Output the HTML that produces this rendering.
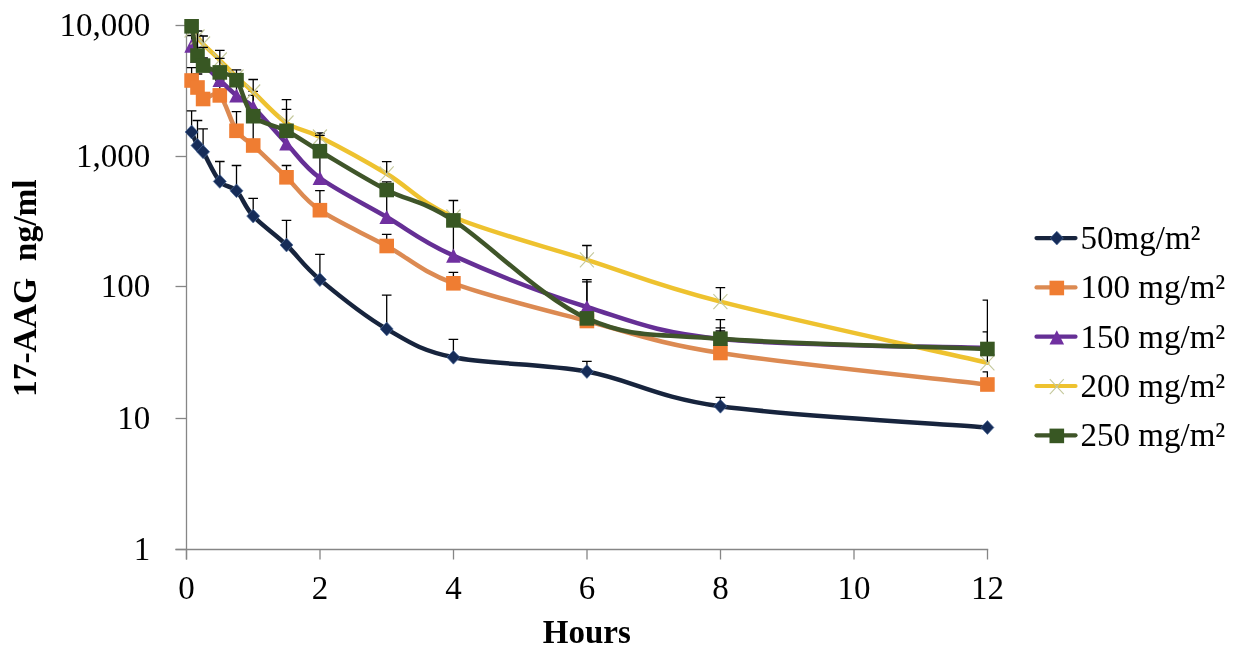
<!DOCTYPE html><html><head><meta charset="utf-8"><title>17-AAG plasma concentration</title><style>html,body{margin:0;padding:0;background:#fff;}svg{display:block;}text{font-family:"Liberation Serif","Times New Roman",serif;fill:#000;}</style></head><body>
<svg width="1236" height="657" viewBox="0 0 1236 657">
<rect width="1236" height="657" fill="#fff"/>
<g stroke="#868686" stroke-width="1.3" fill="none">
<path d="M186.5 25V559.5"/>
<path d="M175.5 549.5H988.2"/>
<path d="M175.5 25.5H186.5"/>
<path d="M175.5 156.5H186.5"/>
<path d="M175.5 286.5H186.5"/>
<path d="M175.5 418.5H186.5"/>
<path d="M175.5 549.5H186.5"/>
<path d="M186.5 549.5V559.5"/>
<path d="M320.0 549.5V559.5"/>
<path d="M453.5 549.5V559.5"/>
<path d="M587.0 549.5V559.5"/>
<path d="M720.5 549.5V559.5"/>
<path d="M854.0 549.5V559.5"/>
<path d="M987.5 549.5V559.5"/>
</g>
<text x="150.3" y="35.9" font-size="33" text-anchor="end">10,000</text>
<text x="150.3" y="166.8" font-size="33" text-anchor="end">1,000</text>
<text x="150.3" y="296.9" font-size="33" text-anchor="end">100</text>
<text x="150.3" y="428.9" font-size="33" text-anchor="end">10</text>
<text x="150.3" y="559.9" font-size="33" text-anchor="end">1</text>
<text x="186.5" y="599.2" font-size="33" text-anchor="middle">0</text>
<text x="320.0" y="599.2" font-size="33" text-anchor="middle">2</text>
<text x="453.5" y="599.2" font-size="33" text-anchor="middle">4</text>
<text x="587.0" y="599.2" font-size="33" text-anchor="middle">6</text>
<text x="720.5" y="599.2" font-size="33" text-anchor="middle">8</text>
<text x="854.0" y="599.2" font-size="33" text-anchor="middle">10</text>
<text x="987.5" y="599.2" font-size="33" text-anchor="middle">12</text>
<text x="586.8" y="643" font-size="33" font-weight="bold" text-anchor="middle">Hours</text>
<text transform="translate(35.9 288.2) rotate(-90)" font-size="33.5" font-weight="bold" text-anchor="middle" xml:space="preserve">17-AAG  ng/ml</text>
<defs><clipPath id="pa"><rect x="0" y="0" width="988" height="560"/></clipPath></defs>
<path d="M191.60 132.00 C192.58 134.25 195.58 142.20 197.50 145.50 C199.42 148.80 199.38 145.82 203.10 151.80 C206.82 157.78 214.23 174.90 219.80 181.40 C225.37 187.90 230.93 185.02 236.50 190.80 C242.07 196.58 244.87 207.07 253.20 216.10 C261.53 225.13 275.38 234.42 286.50 245.00 C297.62 255.58 303.20 265.60 319.90 279.60 C336.60 293.60 364.45 316.05 386.70 329.00 C408.95 341.95 420.03 350.22 453.40 357.30 C486.77 364.38 542.40 363.33 586.90 371.50 C631.40 379.67 653.65 396.97 720.40 406.30 C787.15 415.63 942.90 423.97 987.40 427.50" fill="none" stroke="#17243d" stroke-width="4.5" stroke-linejoin="round" stroke-linecap="round"/>
<path d="M191.60 132.00V110.80M186.80 110.80H196.40M197.50 145.50V120.50M192.70 120.50H202.30M203.10 151.80V128.80M198.30 128.80H207.90M219.80 181.40V161.50M215.00 161.50H224.60M236.50 190.80V165.50M231.70 165.50H241.30M253.20 216.10V198.40M248.40 198.40H258.00M286.50 245.00V220.30M281.70 220.30H291.30M319.90 279.60V254.40M315.10 254.40H324.70M386.70 329.00V295.20M381.90 295.20H391.50M453.40 357.30V339.40M448.60 339.40H458.20M586.90 371.50V361.40M582.10 361.40H591.70M720.40 406.30V397.30M715.60 397.30H725.20" stroke="#000" stroke-width="1.3" fill="none" clip-path="url(#pa)"/>
<path d="M191.60 125.10L198.10 132.00L191.60 138.90L185.10 132.00Z" fill="#162c58" stroke="#4f6d9c" stroke-width="0.7"/>
<path d="M197.50 138.60L204.00 145.50L197.50 152.40L191.00 145.50Z" fill="#162c58" stroke="#4f6d9c" stroke-width="0.7"/>
<path d="M203.10 144.90L209.60 151.80L203.10 158.70L196.60 151.80Z" fill="#162c58" stroke="#4f6d9c" stroke-width="0.7"/>
<path d="M219.80 174.50L226.30 181.40L219.80 188.30L213.30 181.40Z" fill="#162c58" stroke="#4f6d9c" stroke-width="0.7"/>
<path d="M236.50 183.90L243.00 190.80L236.50 197.70L230.00 190.80Z" fill="#162c58" stroke="#4f6d9c" stroke-width="0.7"/>
<path d="M253.20 209.20L259.70 216.10L253.20 223.00L246.70 216.10Z" fill="#162c58" stroke="#4f6d9c" stroke-width="0.7"/>
<path d="M286.50 238.10L293.00 245.00L286.50 251.90L280.00 245.00Z" fill="#162c58" stroke="#4f6d9c" stroke-width="0.7"/>
<path d="M319.90 272.70L326.40 279.60L319.90 286.50L313.40 279.60Z" fill="#162c58" stroke="#4f6d9c" stroke-width="0.7"/>
<path d="M386.70 322.10L393.20 329.00L386.70 335.90L380.20 329.00Z" fill="#162c58" stroke="#4f6d9c" stroke-width="0.7"/>
<path d="M453.40 350.40L459.90 357.30L453.40 364.20L446.90 357.30Z" fill="#162c58" stroke="#4f6d9c" stroke-width="0.7"/>
<path d="M586.90 364.60L593.40 371.50L586.90 378.40L580.40 371.50Z" fill="#162c58" stroke="#4f6d9c" stroke-width="0.7"/>
<path d="M720.40 399.40L726.90 406.30L720.40 413.20L713.90 406.30Z" fill="#162c58" stroke="#4f6d9c" stroke-width="0.7"/>
<path d="M987.40 420.60L993.90 427.50L987.40 434.40L980.90 427.50Z" fill="#162c58" stroke="#4f6d9c" stroke-width="0.7"/>
<path d="M191.60 80.50 C192.58 81.67 195.58 84.42 197.50 87.50 C199.42 90.58 199.38 97.68 203.10 99.00 C206.82 100.32 214.23 90.10 219.80 95.40 C225.37 100.70 230.93 122.45 236.50 130.80 C242.07 139.15 244.87 137.75 253.20 145.50 C261.53 153.25 275.38 166.52 286.50 177.30 C297.62 188.08 303.20 198.75 319.90 210.20 C336.60 221.65 364.45 233.82 386.70 246.00 C408.95 258.18 420.03 270.80 453.40 283.30 C486.77 295.80 542.40 309.38 586.90 321.00 C631.40 332.62 653.65 342.42 720.40 353.00 C787.15 363.58 942.90 379.25 987.40 384.50" fill="none" stroke="#dc8a52" stroke-width="4.5" stroke-linejoin="round" stroke-linecap="round"/>
<path d="M191.60 80.50V67.60M186.80 67.60H196.40M197.50 87.50V74.00M192.70 74.00H202.30M219.80 95.40V80.00M215.00 80.00H224.60M236.50 130.80V111.60M231.70 111.60H241.30M253.20 145.50V91.40M248.40 91.40H258.00M286.50 177.30V165.50M281.70 165.50H291.30M319.90 210.20V190.60M315.10 190.60H324.70M386.70 246.00V234.30M381.90 234.30H391.50M453.40 283.30V272.40M448.60 272.40H458.20M586.90 321.00V281.80M582.10 281.80H591.70M720.40 353.00V331.00M715.60 331.00H725.20M987.40 384.50V371.90M982.60 371.90H992.20" stroke="#000" stroke-width="1.3" fill="none" clip-path="url(#pa)"/>
<rect x="184.30" y="73.20" width="14.6" height="14.6" fill="#ef7d32"/>
<rect x="190.20" y="80.20" width="14.6" height="14.6" fill="#ef7d32"/>
<rect x="195.80" y="91.70" width="14.6" height="14.6" fill="#ef7d32"/>
<rect x="212.50" y="88.10" width="14.6" height="14.6" fill="#ef7d32"/>
<rect x="229.20" y="123.50" width="14.6" height="14.6" fill="#ef7d32"/>
<rect x="245.90" y="138.20" width="14.6" height="14.6" fill="#ef7d32"/>
<rect x="279.20" y="170.00" width="14.6" height="14.6" fill="#ef7d32"/>
<rect x="312.60" y="202.90" width="14.6" height="14.6" fill="#ef7d32"/>
<rect x="379.40" y="238.70" width="14.6" height="14.6" fill="#ef7d32"/>
<rect x="446.10" y="276.00" width="14.6" height="14.6" fill="#ef7d32"/>
<rect x="579.60" y="313.70" width="14.6" height="14.6" fill="#ef7d32"/>
<rect x="713.10" y="345.70" width="14.6" height="14.6" fill="#ef7d32"/>
<rect x="980.10" y="377.20" width="14.6" height="14.6" fill="#ef7d32"/>
<path d="M191.60 45.70 C192.58 47.42 195.58 52.95 197.50 56.00 C199.42 59.05 199.38 60.00 203.10 64.00 C206.82 68.00 214.23 74.75 219.80 80.00 C225.37 85.25 230.93 91.00 236.50 95.50 C242.07 100.00 244.87 99.00 253.20 107.00 C261.53 115.00 275.38 131.67 286.50 143.50 C297.62 155.33 303.20 165.75 319.90 178.00 C336.60 190.25 364.45 204.07 386.70 217.00 C408.95 229.93 420.03 240.60 453.40 255.60 C486.77 270.60 542.40 293.10 586.90 307.00 C631.40 320.90 653.65 332.17 720.40 339.00 C787.15 345.83 942.90 346.50 987.40 348.00" fill="none" stroke="#652f95" stroke-width="4.5" stroke-linejoin="round" stroke-linecap="round"/>
<path d="M191.60 45.70V35.50M186.80 35.50H196.40M197.50 56.00V50.00M192.70 50.00H202.30M203.10 64.00V58.00M198.30 58.00H207.90M219.80 80.00V72.00M215.00 72.00H224.60M236.50 95.50V85.00M231.70 85.00H241.30M253.20 107.00V95.30M248.40 95.30H258.00M286.50 143.50V128.00M281.70 128.00H291.30M319.90 178.00V150.00M315.10 150.00H324.70M386.70 217.00V190.00M381.90 190.00H391.50M453.40 255.60V215.00M448.60 215.00H458.20M586.90 307.00V279.70M582.10 279.70H591.70M720.40 339.00V319.70M715.60 319.70H725.20" stroke="#000" stroke-width="1.3" fill="none" clip-path="url(#pa)"/>
<path d="M191.60 38.60L198.90 52.80L184.30 52.80Z" fill="#7030a0"/>
<path d="M197.50 48.90L204.80 63.10L190.20 63.10Z" fill="#7030a0"/>
<path d="M203.10 56.90L210.40 71.10L195.80 71.10Z" fill="#7030a0"/>
<path d="M219.80 72.90L227.10 87.10L212.50 87.10Z" fill="#7030a0"/>
<path d="M236.50 88.40L243.80 102.60L229.20 102.60Z" fill="#7030a0"/>
<path d="M253.20 99.90L260.50 114.10L245.90 114.10Z" fill="#7030a0"/>
<path d="M286.50 136.40L293.80 150.60L279.20 150.60Z" fill="#7030a0"/>
<path d="M319.90 170.90L327.20 185.10L312.60 185.10Z" fill="#7030a0"/>
<path d="M386.70 209.90L394.00 224.10L379.40 224.10Z" fill="#7030a0"/>
<path d="M453.40 248.50L460.70 262.70L446.10 262.70Z" fill="#7030a0"/>
<path d="M586.90 299.90L594.20 314.10L579.60 314.10Z" fill="#7030a0"/>
<path d="M720.40 331.90L727.70 346.10L713.10 346.10Z" fill="#7030a0"/>
<path d="M987.40 340.90L994.70 355.10L980.10 355.10Z" fill="#7030a0"/>
<path d="M191.60 30.00 C192.58 31.17 195.58 34.67 197.50 37.00 C199.42 39.33 199.38 40.17 203.10 44.00 C206.82 47.83 214.23 54.50 219.80 60.00 C225.37 65.50 230.93 71.67 236.50 77.00 C242.07 82.33 244.87 84.33 253.20 92.00 C261.53 99.67 275.38 115.50 286.50 123.00 C297.62 130.50 303.20 128.53 319.90 137.00 C336.60 145.47 364.45 160.47 386.70 173.80 C408.95 187.13 420.03 202.67 453.40 217.00 C486.77 231.33 542.40 245.70 586.90 259.80 C631.40 273.90 653.65 284.43 720.40 301.60 C787.15 318.77 942.90 352.60 987.40 362.80" fill="none" stroke="#eec22f" stroke-width="4.5" stroke-linejoin="round" stroke-linecap="round"/>
<path d="M197.50 37.00V35.30M192.70 35.30H202.30M203.10 44.00V36.00M198.30 36.00H207.90M219.80 60.00V50.30M215.00 50.30H224.60M253.20 92.00V79.50M248.40 79.50H258.00M286.50 123.00V99.70M281.70 99.70H291.30M319.90 137.00V133.00M315.10 133.00H324.70M386.70 173.80V161.60M381.90 161.60H391.50M586.90 259.80V245.50M582.10 245.50H591.70M720.40 301.60V287.70M715.60 287.70H725.20M987.40 362.80V331.80M982.60 331.80H992.20" stroke="#000" stroke-width="1.3" fill="none" clip-path="url(#pa)"/>
<path d="M184.60 22.50L198.60 37.50M198.60 22.50L184.60 37.50" stroke="#c4c89c" stroke-width="1.1" fill="none"/>
<path d="M190.50 29.50L204.50 44.50M204.50 29.50L190.50 44.50" stroke="#c4c89c" stroke-width="1.1" fill="none"/>
<path d="M196.10 36.50L210.10 51.50M210.10 36.50L196.10 51.50" stroke="#c4c89c" stroke-width="1.1" fill="none"/>
<path d="M212.80 52.50L226.80 67.50M226.80 52.50L212.80 67.50" stroke="#c4c89c" stroke-width="1.1" fill="none"/>
<path d="M229.50 69.50L243.50 84.50M243.50 69.50L229.50 84.50" stroke="#c4c89c" stroke-width="1.1" fill="none"/>
<path d="M246.20 84.50L260.20 99.50M260.20 84.50L246.20 99.50" stroke="#c4c89c" stroke-width="1.1" fill="none"/>
<path d="M279.50 115.50L293.50 130.50M293.50 115.50L279.50 130.50" stroke="#c4c89c" stroke-width="1.1" fill="none"/>
<path d="M312.90 129.50L326.90 144.50M326.90 129.50L312.90 144.50" stroke="#c4c89c" stroke-width="1.1" fill="none"/>
<path d="M379.70 166.30L393.70 181.30M393.70 166.30L379.70 181.30" stroke="#c4c89c" stroke-width="1.1" fill="none"/>
<path d="M446.40 209.50L460.40 224.50M460.40 209.50L446.40 224.50" stroke="#c4c89c" stroke-width="1.1" fill="none"/>
<path d="M579.90 252.30L593.90 267.30M593.90 252.30L579.90 267.30" stroke="#c4c89c" stroke-width="1.1" fill="none"/>
<path d="M713.40 294.10L727.40 309.10M727.40 294.10L713.40 309.10" stroke="#c4c89c" stroke-width="1.1" fill="none"/>
<path d="M980.40 355.30L994.40 370.30M994.40 355.30L980.40 370.30" stroke="#c4c89c" stroke-width="1.1" fill="none"/>
<path d="M191.60 26.30 C192.58 31.18 195.58 49.05 197.50 55.60 C199.42 62.15 199.38 62.80 203.10 65.60 C206.82 68.40 214.23 69.97 219.80 72.40 C225.37 74.83 230.93 72.90 236.50 80.20 C242.07 87.50 244.87 107.77 253.20 116.20 C261.53 124.63 275.38 124.97 286.50 130.80 C297.62 136.63 303.20 141.33 319.90 151.20 C336.60 161.07 364.45 178.47 386.70 190.00 C408.95 201.53 420.03 199.00 453.40 220.40 C486.77 241.80 542.40 298.68 586.90 318.40 C631.40 338.12 653.65 333.60 720.40 338.70 C787.15 343.80 942.90 347.28 987.40 349.00" fill="none" stroke="#3f5529" stroke-width="4.5" stroke-linejoin="round" stroke-linecap="round"/>
<path d="M197.50 55.60V31.00M192.70 31.00H202.30M203.10 65.60V47.40M198.30 47.40H207.90M219.80 72.40V58.30M215.00 58.30H224.60M236.50 80.20V69.80M231.70 69.80H241.30M286.50 130.80V109.30M281.70 109.30H291.30M319.90 151.20V135.30M315.10 135.30H324.70M386.70 190.00V181.80M381.90 181.80H391.50M453.40 220.40V200.50M448.60 200.50H458.20M720.40 338.70V327.80M715.60 327.80H725.20M987.40 349.00V300.20M982.60 300.20H992.20" stroke="#000" stroke-width="1.3" fill="none" clip-path="url(#pa)"/>
<rect x="184.30" y="19.00" width="14.6" height="14.6" fill="#385723"/>
<rect x="190.20" y="48.30" width="14.6" height="14.6" fill="#385723"/>
<rect x="195.80" y="58.30" width="14.6" height="14.6" fill="#385723"/>
<rect x="212.50" y="65.10" width="14.6" height="14.6" fill="#385723"/>
<rect x="229.20" y="72.90" width="14.6" height="14.6" fill="#385723"/>
<rect x="245.90" y="108.90" width="14.6" height="14.6" fill="#385723"/>
<rect x="279.20" y="123.50" width="14.6" height="14.6" fill="#385723"/>
<rect x="312.60" y="143.90" width="14.6" height="14.6" fill="#385723"/>
<rect x="379.40" y="182.70" width="14.6" height="14.6" fill="#385723"/>
<rect x="446.10" y="213.10" width="14.6" height="14.6" fill="#385723"/>
<rect x="579.60" y="311.10" width="14.6" height="14.6" fill="#385723"/>
<rect x="713.10" y="331.40" width="14.6" height="14.6" fill="#385723"/>
<rect x="980.10" y="341.70" width="14.6" height="14.6" fill="#385723"/>
<path d="M1036.5 238.10H1075.5" stroke="#17243d" stroke-width="4.2" stroke-linecap="round"/>
<path d="M1056.80 231.20L1063.30 238.10L1056.80 245.00L1050.30 238.10Z" fill="#162c58" stroke="#4f6d9c" stroke-width="0.7"/>
<text x="1080.6" y="248.90" font-size="33">50mg/m²</text>
<path d="M1036.5 287.40H1075.5" stroke="#dc8a52" stroke-width="4.2" stroke-linecap="round"/>
<rect x="1049.50" y="280.70" width="14.6" height="14.6" fill="#ef7d32"/>
<text x="1080.6" y="298.20" font-size="33">100 mg/m²</text>
<path d="M1036.5 336.70H1075.5" stroke="#652f95" stroke-width="4.2" stroke-linecap="round"/>
<path d="M1056.80 330.20L1064.10 344.40L1049.50 344.40Z" fill="#7030a0"/>
<text x="1080.6" y="347.50" font-size="33">150 mg/m²</text>
<path d="M1036.5 386.00H1075.5" stroke="#eec22f" stroke-width="4.2" stroke-linecap="round"/>
<path d="M1049.80 379.10L1063.80 394.10M1063.80 379.10L1049.80 394.10" stroke="#c4c89c" stroke-width="1.1" fill="none"/>
<text x="1080.6" y="396.80" font-size="33">200 mg/m²</text>
<path d="M1036.5 435.30H1075.5" stroke="#3f5529" stroke-width="4.2" stroke-linecap="round"/>
<rect x="1049.50" y="428.60" width="14.6" height="14.6" fill="#385723"/>
<text x="1080.6" y="446.10" font-size="33">250 mg/m²</text>
</svg></body></html>
